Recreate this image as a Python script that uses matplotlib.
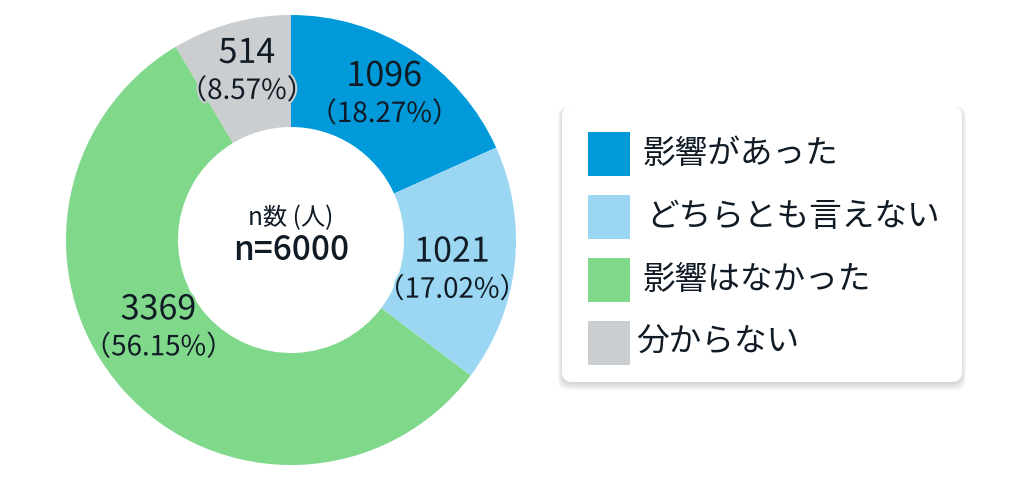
import matplotlib

matplotlib.use("Agg")
import matplotlib.pyplot as plt
import matplotlib.patheffects as pe
import numpy as np
from matplotlib.patches import FancyBboxPatch, Rectangle

plt.rcParams["font.family"] = ["Noto Sans CJK JP", "DejaVu Sans"]

categories = ["影響があった", "どちらとも言えない", "影響はなかった", "分からない"]
counts = [1096, 1021, 3369, 514]
percents = ["18.27%", "17.02%", "56.15%", "8.57%"]
colors = ["#009ADB", "#9BD7F3", "#80D98B", "#CBCED0"]
total_label = "n=6000"
center_title = "n数 (人)"

W, H = 1029, 480
fig = plt.figure(figsize=(W / 100, H / 100), dpi=100)
fig.patch.set_facecolor("white")
ax = fig.add_axes([0, 0, 1, 1])
ax.set_xlim(0, W)
ax.set_ylim(0, H)
ax.set_aspect("equal")
ax.axis("off")

cx, cy = 291, 240
r_out, r_in = 225, 113
wedges, _ = ax.pie(counts, colors=colors, startangle=90, counterclock=False,
                   center=(cx, cy), radius=r_out,
                   wedgeprops=dict(width=r_out - r_in, linewidth=0))
ax.set_xlim(0, W)
ax.set_ylim(0, H)

txt = "#101b25"
# small nudges so the labels sit where the original put them
nudges = [(1, 2), (-8, -12), (-6, 25), (1, 4)]
for w, n, p, col, (nx, ny) in zip(wedges, counts, percents, colors, nudges):
    ang = np.deg2rad((w.theta1 + w.theta2) / 2)
    rm = 170
    x = cx + rm * np.cos(ang) + nx
    y = cy + rm * np.sin(ang) + ny
    halo = [pe.withStroke(linewidth=3, foreground=col)]
    ax.text(x, y + 18.75, str(n), ha="center", va="center", fontsize=24.5,
            color=txt, path_effects=halo)
    ax.text(x, y - 18.75, "（" + p + "）", ha="center", va="center", fontsize=20,
            color=txt, path_effects=halo)

ax.text(cx, cy + 22, center_title, ha="center", va="center", fontsize=17.5, color=txt)
ax.text(cx, cy - 10, total_label, ha="center", va="center", fontsize=24,
        color=txt, fontweight="medium")

# legend box
bx0, by0, bx1, by1 = 562, H - 382, 962, H - 106
for i in range(8):
    sh = FancyBboxPatch((bx0 - i * 0.6, by0 - 2 - i * 0.9), bx1 - bx0 + i * 1.2, by1 - by0 + i * 1.2,
                        boxstyle="round,pad=0,rounding_size=11",
                        facecolor="black", edgecolor="none", alpha=0.018)
    ax.add_patch(sh)
box = FancyBboxPatch((bx0, by0), bx1 - bx0, by1 - by0,
                     boxstyle="round,pad=0,rounding_size=10",
                     facecolor="white", edgecolor="none")
ax.add_patch(box)

row_y = [154, 217, 280, 343]
text_x = [643, 646, 643, 636]
for lab, col, ry, tx in zip(categories, colors, row_y, text_x):
    ax.add_patch(Rectangle((588, H - ry - 22), 42, 44, facecolor=col, edgecolor="none"))
    ax.text(tx, H - ry, lab, ha="left", va="center", fontsize=23.5, color=txt)

fig.savefig("out.png", dpi=100, facecolor="white")
